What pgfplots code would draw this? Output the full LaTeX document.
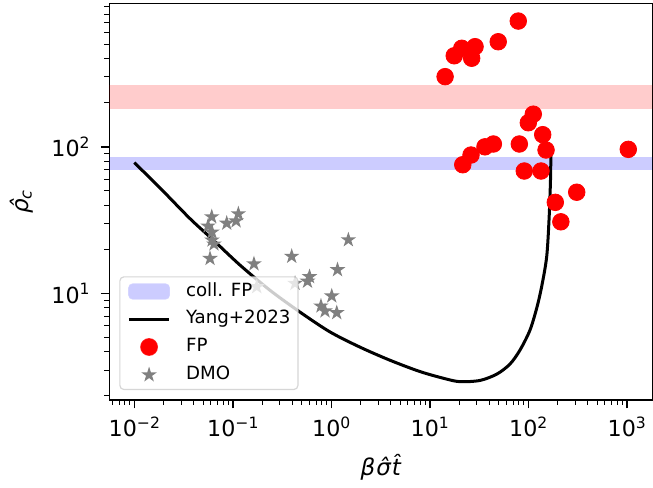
\documentclass[border=0pt]{standalone}
\usepackage{fontspec}
\setmainfont{DejaVu Sans}
\usepackage{pgfplots}
\pgfplotsset{compat=1.18}
\newcommand{\sx}[1]{\raisebox{4.1bp}{\fontsize{7.8bp}{8bp}\selectfont #1}}
\pgfdeclareplotmark{fstar}{%
 \pgfpathmoveto{\pgfpointpolar{90}{\pgfplotmarksize}}%
 \pgfpathlineto{\pgfpointpolar{126}{0.382\pgfplotmarksize}}%
 \pgfpathlineto{\pgfpointpolar{162}{\pgfplotmarksize}}%
 \pgfpathlineto{\pgfpointpolar{198}{0.382\pgfplotmarksize}}%
 \pgfpathlineto{\pgfpointpolar{234}{\pgfplotmarksize}}%
 \pgfpathlineto{\pgfpointpolar{270}{0.382\pgfplotmarksize}}%
 \pgfpathlineto{\pgfpointpolar{306}{\pgfplotmarksize}}%
 \pgfpathlineto{\pgfpointpolar{342}{0.382\pgfplotmarksize}}%
 \pgfpathlineto{\pgfpointpolar{18}{\pgfplotmarksize}}%
 \pgfpathlineto{\pgfpointpolar{54}{0.382\pgfplotmarksize}}%
 \pgfpathclose
 \pgfusepathqfill
}
\definecolor{mgray}{RGB}{128,128,128}
\begin{document}
\begin{tikzpicture}
\begin{axis}[
  scale only axis, width=271.5bp, height=198.35bp,
  xmode=log, ymode=log,
  xmin=0.00557, xmax=1815, ymin=1.875, ymax=953,
  axis line style={line width=0.75bp},
  tick align=outside, tick pos=left,
  major tick length=4.25bp, minor tick length=2.5bp,
  every major tick/.style={black, line width=0.7bp},
  every minor tick/.style={black, line width=0.5bp},
  xtick={0.01,0.1,1,10,100,1000},
  xticklabels={10\sx{−2},10\sx{−1},10\sx{0},10\sx{1},10\sx{2},10\sx{3}},
  minor xtick={0.006,0.007,0.008,0.009,0.02,0.03,0.04,0.05,0.06,0.07,0.08,0.09,0.2,0.3,0.4,0.5,0.6,0.7,0.8,0.9,2,3,4,5,6,7,8,9,20,30,40,50,60,70,80,90,200,300,400,500,600,700,800,900},
  ytick={10,100},
  yticklabels={10\sx{1},10\sx{2}},
  minor ytick={2,3,4,5,6,7,8,9,20,30,40,50,60,70,80,90,200,300,400,500,600,700,800,900},
  tick label style={font=\fontsize{11.1bp}{13bp}\selectfont, inner sep=0pt},
  xticklabel style={anchor=north, yshift=-4.1bp},
  yticklabel style={anchor=east, xshift=-5.4bp},
  xlabel={\itshape β\kern0.5bp σ̂\kern0.5bp t̂},
  ylabel={\itshape ρ̂\textsubscript{c}},
  label style={font=\fontsize{11.5bp}{13bp}\selectfont},
  xlabel style={at={(axis description cs:0.5,-0.169)}, anchor=center},
  ylabel style={at={(axis description cs:-0.162,0.5)}, anchor=center, rotate=0},
  legend cell align=left,
  legend style={at={(axis description cs:0.0184,0.025)}, anchor=south west,
    draw=black!20, line width=0.6bp, rounded corners=2bp,
    fill=white, fill opacity=0.8, draw opacity=0.8, text opacity=1,
    font=\fontsize{9.1bp}{10bp}\selectfont,
    inner xsep=3.7bp, inner ysep=3bp, row sep=5.2bp,
    nodes={inner sep=0pt, text height=6.7bp, text depth=1.9bp},
    /tikz/every odd column/.append style={column sep=7.6bp}},
]
\addlegendimage{legend image code/.code={\fill[blue!20, fill opacity=1] (0bp,-3.75bp) rectangle (20.3bp,3.75bp);}}
\addlegendentry{coll. FP}
\addlegendimage{legend image code/.code={\draw[black, line width=1.5bp, draw opacity=1] (0bp,0bp) -- (20.3bp,0bp);}}
\addlegendentry{Yang+2023}
\addlegendimage{legend image code/.code={\fill[red, fill opacity=1] (10.15bp,0bp) circle (4.15bp);}}
\addlegendentry{FP}
\addlegendimage{legend image code/.code={\pgfsetfillopacity{1}\pgfsetfillcolor{mgray}\pgfsetcolor{mgray}\pgftransformshift{\pgfpoint{10.15bp}{0bp}}\pgfsetplotmarksize{4.1bp}\pgfuseplotmark{fstar}}}
\addlegendentry{DMO}

% DMO stars
\addplot[forget plot, only marks, mark=fstar, mark size=4.1bp, color=mgray, fill=mgray] coordinates {
(0.0611,33.3) (0.0560,28.8) (0.0615,26.2) (0.0615,23.1) (0.0644,21.7) (0.0587,17.3)
(0.0867,30.1) (0.1138,34.9) (0.108,31.2) (0.164,15.9) (0.396,17.9) (1.49,23.2)
(1.156,14.5) (0.601,13.0) (0.573,12.1) (1.01,9.6) (0.785,8.2) (0.863,7.59)
(1.135,7.38) (0.175,11.1) (0.428,11.7)
};
% FP dots
\addplot[forget plot, only marks, mark=*, mark size=4.15bp, color=red, fill=red, mark options={draw=none}] coordinates {
(79.1,721) (49.5,521) (21.1,470) (28.8,482) (17.7,418) (26.6,402) (14.3,301)
(112.4,167) (100,146) (140,121) (81.1,104.5) (44.2,104.5) (36.3,100) (151.4,95.1)
(1035,96.1) (26.2,87.9) (21.6,75.5) (91.0,68.4) (134.6,68.4) (310,49.0)
(188,41.8) (214,30.8)
};
% bands
\addplot[forget plot, draw=none, fill=red, fill opacity=0.2] coordinates {(0.001,180) (10000,180) (10000,265) (0.001,265)} -- cycle;
\addplot[forget plot, draw=none, fill=blue, fill opacity=0.2] coordinates {(0.001,69) (10000,69) (10000,85) (0.001,85)} -- cycle;
% Yang+2023 curve
\addplot[forget plot, black, line width=1.5bp, smooth, tension=0.5] coordinates {
(0.01,78) (0.01824,52.4) (0.0367,32.4) (0.0634,23.1) (0.1183,15.6) (0.2387,10.5)
(0.4808,7.46) (0.970,5.46) (1.956,4.30) (3.945,3.50) (7.95,2.93) (14.28,2.62)
(20.3,2.50) (32.4,2.55) (48.1,2.82) (65.2,3.30) (82.4,4.11) (104.0,5.62)
(122.5,8.07) (137.6,11.4) (153.7,17.8) (162.3,31.7) (168.0,59.4) (169.8,98.6)
};
\end{axis}
\pgfresetboundingbox
\useasboundingbox ([shift={(-54.65bp,-44bp)}]current axis.south west) rectangle ([shift={(0.35bp,1.65bp)}]current axis.north east);
\end{tikzpicture}
\end{document}
